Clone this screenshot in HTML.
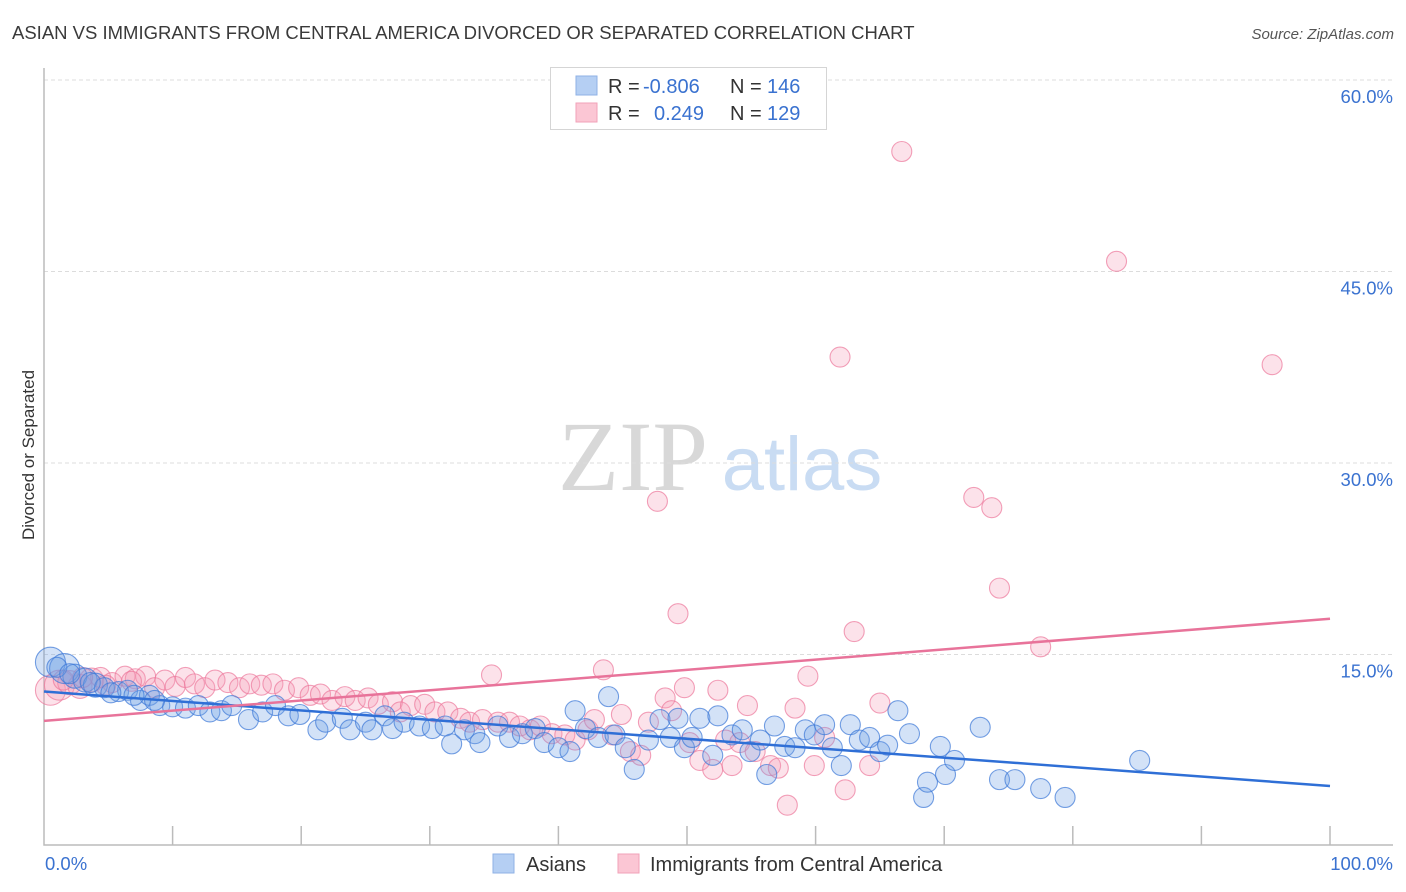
<!DOCTYPE html>
<html><head><meta charset="utf-8"><style>
body{margin:0;background:#fff;font-family:"Liberation Sans",sans-serif;}
#wrap{position:relative;width:1406px;height:892px;overflow:hidden;}
</style></head><body>
<div id="wrap">
<svg id="svg" width="1406" height="892" xmlns="http://www.w3.org/2000/svg">
<text x="12" y="39" font-size="18.5" fill="#3a3a3a">ASIAN VS IMMIGRANTS FROM CENTRAL AMERICA DIVORCED OR SEPARATED CORRELATION CHART</text>
<text x="1394" y="39" font-size="15" fill="#555" font-style="italic" text-anchor="end">Source: ZipAtlas.com</text>
<text x="34" y="455" font-size="17" fill="#333" text-anchor="middle" transform="rotate(-90 34 455)">Divorced or Separated</text>
<g>
<text x="633" y="490" font-size="100" fill="#d8d8d8" font-family="Liberation Serif,serif" text-anchor="middle">ZIP</text>
<text x="802" y="490" font-size="76" fill="#c9dcf3" text-anchor="middle">atlas</text>
</g>
<g id="grid"></g><g id="axes"></g><g id="pts"></g><g id="lines"></g>
<g>
<rect x="550.5" y="67.5" width="276" height="62" fill="#fff" stroke="#d5d5d5"/>
<rect x="576" y="76" width="21" height="19" fill="#b5cff3" stroke="#8fb2e6"/>
<rect x="576" y="103" width="21" height="19" fill="#fbc6d4" stroke="#f1a2b8"/>
<text x="608" y="93" font-size="20" fill="#333">R = <tspan x="643" fill="#3a72d0">-0.806</tspan><tspan x="730">N = </tspan><tspan x="767" fill="#3a72d0">146</tspan></text>
<text x="608" y="120" font-size="20" fill="#333">R = <tspan x="654" fill="#3a72d0">0.249</tspan><tspan x="730">N = </tspan><tspan x="767" fill="#3a72d0">129</tspan></text>
</g>
<g>
<rect x="493" y="854" width="21" height="19" fill="#b5cff3" stroke="#8fb2e6"/>
<text x="526" y="871" font-size="20" fill="#333">Asians</text>
<rect x="618" y="854" width="21" height="19" fill="#fbc6d4" stroke="#f1a2b8"/>
<text x="650" y="871" font-size="20" fill="#333">Immigrants from Central America</text>
</g>
</svg>
</div>
<script>
const yTicks=[15,30,45,60];
const yTickLabels=["15.0%","30.0%","45.0%","60.0%"];
const xTickLabels=["0.0%","100.0%"];
const asianX=[0.5,1.6,2.4,3.2,4.0,4.7,5.8,6.5,7.5,8.2,9.0,10.0,11.0,12.0,12.9,13.8,14.6,15.9,17.0,18.0,19.0,19.9,21.3,21.9,23.2,23.8,25.0,25.5,26.5,27.1,28.0,29.2,30.2,31.2,31.7,32.7,33.5,33.9,35.3,36.2,37.2,38.2,38.9,40.0,40.9,41.3,42.1,43.1,43.9,44.4,45.2,45.9,47.0,47.9,48.7,49.3,49.8,50.4,51.0,52.0,52.4,53.5,54.3,54.9,55.7,56.2,56.8,57.6,58.4,59.2,59.9,60.7,61.3,62.0,62.7,63.4,64.2,65.0,65.6,66.4,67.3,68.4,68.7,69.7,70.1,70.8,72.8,74.3,75.5,77.5,79.4,85.2,1.0,2.0,3.6,5.2,7.0,8.6];
const asianY=[14.4,13.9,13.3,13.0,12.6,12.4,12.1,12.2,11.4,11.8,11.0,10.9,10.8,11.0,10.5,10.6,11.0,9.9,10.5,11.0,10.2,10.3,9.1,9.7,10.0,9.1,9.7,9.1,10.2,9.2,9.7,9.4,9.2,9.4,8.0,9.1,8.8,8.1,9.4,8.5,8.8,9.2,8.1,7.7,7.4,10.6,9.2,8.5,11.7,8.7,7.7,6.0,8.3,9.9,8.5,10.0,7.7,8.5,10.0,7.1,10.2,8.7,9.1,7.4,8.3,5.6,9.4,7.8,7.7,9.1,8.7,9.5,7.7,6.3,9.5,8.3,8.5,7.4,7.9,10.6,8.8,3.8,5.0,7.8,5.6,6.7,9.3,5.2,5.2,4.5,3.8,6.7,14.0,13.5,12.8,12.0,11.8,11.4];
const immX=[0.5,1.2,2.0,2.8,3.7,4.4,5.3,6.3,7.1,7.9,8.6,9.4,10.2,11.0,11.7,12.5,13.3,14.3,15.2,16.0,16.9,17.8,18.7,19.8,20.7,21.5,22.4,23.4,24.2,25.2,26.0,27.1,27.7,28.5,29.6,30.4,31.4,32.4,33.1,34.1,34.8,35.3,36.2,37.0,37.8,38.6,39.5,40.5,41.3,42.3,42.8,43.5,44.2,44.9,45.6,46.4,47.0,47.7,48.3,48.8,49.3,49.8,50.2,51.0,52.0,52.4,53.0,53.5,54.1,54.7,55.3,56.5,57.1,57.8,58.4,59.4,59.9,60.7,61.9,62.3,63.0,64.2,65.0,66.7,72.3,73.7,74.3,77.5,83.4,95.5,1.5,3.0,4.8,6.8];
const immY=[12.2,12.6,12.8,12.5,13.0,13.2,12.8,13.3,13.1,13.3,12.4,13.0,12.5,13.2,12.7,12.4,13.0,12.8,12.4,12.7,12.6,12.7,12.2,12.4,11.8,11.9,11.4,11.7,11.4,11.6,11.1,11.3,10.5,11.0,11.1,10.5,10.5,10.0,9.7,9.9,13.4,9.7,9.7,9.4,9.1,9.4,8.8,8.7,8.3,9.1,9.9,13.8,8.7,10.3,7.4,7.1,9.7,27.0,11.6,10.6,18.2,12.4,8.1,6.7,6.0,12.2,8.3,6.3,8.1,11.0,7.4,6.3,6.1,3.2,10.8,13.3,6.3,8.5,38.3,4.4,16.8,6.3,11.2,54.4,27.3,26.5,20.2,15.6,45.8,37.7,13.0,13.2,12.6,12.9];
const asianTrend=[12.1,4.7];
const immTrend=[9.8,17.8];

const X0=44,X1=1330,Y0=846,PX15=191.5;
const sx=v=>X0+(X1-X0)*v/100;
const sy=v=>Y0-v*PX15/15;
const NS="http://www.w3.org/2000/svg";
function mk(t,a,p){const e=document.createElementNS(NS,t);for(const k in a)e.setAttribute(k,a[k]);p.appendChild(e);return e;}
const grid=document.getElementById('grid'),axes=document.getElementById('axes'),pts=document.getElementById('pts'),lines=document.getElementById('lines');
yTicks.forEach((v,i)=>{
 const g=mk('line',{x1:X0,x2:1393,y1:sy(v),y2:sy(v),stroke:'#dcdcdc','stroke-dasharray':'4 3'},grid);
 
 
 const t=mk('text',{x:1393,y:sy(v)+23,'font-size':18.5,fill:'#3a72d0','text-anchor':'end'},grid);
 t.textContent=yTickLabels[i];
 
 
});
const ax=mk('path',{d:`M${X0} 68 V${Y0-1} H1393`,stroke:'#bbb',fill:'none','stroke-width':1.5},axes);


for(let i=1;i<=10;i++){const tk=mk('line',{x1:sx(i*10),x2:sx(i*10),y1:826,y2:845,stroke:'#bbb','stroke-width':1.5},axes);
 
 }
const xl0=mk('text',{x:45,y:870,'font-size':18.5,fill:'#3a72d0'},axes);xl0.textContent=xTickLabels[0];


const xl1=mk('text',{x:1393,y:870,'font-size':18.5,fill:'#3a72d0','text-anchor':'end'},axes);xl1.textContent=xTickLabels[1];


function dots(xs,ys,fill,stroke,name){xs.forEach((x,i)=>{
 const r=i<2?15:(i<5?12:10);
 const c=mk('circle',{cx:sx(x),cy:sy(ys[i]),r:r,fill:fill,stroke:stroke,'stroke-width':1.1},pts);
 
 
});}
dots(immX,immY,'rgba(246,160,185,0.3)','rgba(236,120,155,0.7)','immigrant-point');
dots(asianX,asianY,'rgba(110,160,230,0.3)','rgba(60,120,215,0.7)','asian-point');
const l1=mk('line',{x1:sx(0),y1:sy(asianTrend[0]),x2:sx(100),y2:sy(asianTrend[1]),stroke:'#2f6fd6','stroke-width':2.5},lines);


const l2=mk('line',{x1:sx(0),y1:sy(immTrend[0]),x2:sx(100),y2:sy(immTrend[1]),stroke:'#e8739a','stroke-width':2.5},lines);


</script>
</body></html>
